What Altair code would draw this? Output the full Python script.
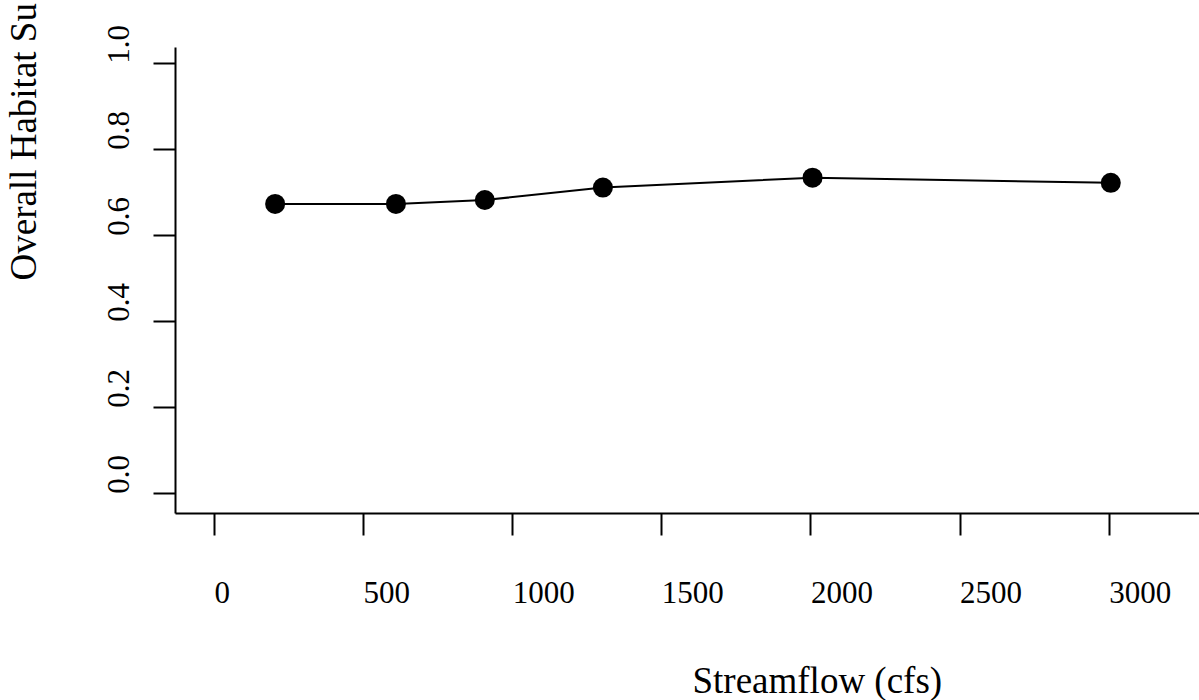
import altair as alt
import pandas as pd

# Data
flow = [205, 610, 908, 1304, 2007, 3007]
suitability = [0.673, 0.673, 0.682, 0.711, 0.734, 0.722]
x_ticks = [0, 500, 1000, 1500, 2000, 2500, 3000]
y_ticks = [0.0, 0.2, 0.4, 0.6, 0.8, 1.0]

df = pd.DataFrame({"flow": flow, "suit": suitability})

FONT = "Liberation Serif"
LABEL_SIZE = 31
TITLE_SIZE = 37

x_enc = alt.X(
    "flow:Q",
    scale=alt.Scale(domain=[-130.8, 3302.8], nice=False, zero=False),
    axis=alt.Axis(
        values=x_ticks, format="d", title="Streamflow (cfs)", grid=False,
        domainColor="black", domainWidth=2, tickColor="black", tickWidth=2, tickSize=22,
        labelFont=FONT, labelFontSize=LABEL_SIZE, labelColor="black",
        labelAlign="left", labelBaseline="alphabetic", labelPadding=67,
        labelFlush=False, labelOverlap=False,
        titleFont=FONT, titleFontSize=TITLE_SIZE, titleFontWeight="normal", titleColor="black",
        titleAlign="left", titleBaseline="alphabetic", titleX=517, titleY=179,
    ),
)

y_enc = alt.Y(
    "suit:Q",
    scale=alt.Scale(domain=[-0.0458, 1.0379], nice=False, zero=False),
    axis=alt.Axis(
        values=y_ticks, format=".1f", title="Overall Habitat Su", grid=False,
        domainColor="black", domainWidth=2, tickColor="black", tickWidth=2, tickSize=22,
        labelFont=FONT, labelFontSize=LABEL_SIZE, labelColor="black",
        labelAngle=270, labelAlign="left", labelBaseline="alphabetic", labelPadding=25,
        labelFlush=False, labelOverlap=False,
        titleFont=FONT, titleFontSize=TITLE_SIZE, titleFontWeight="normal", titleColor="black",
        titleAngle=270, titleAlign="left", titleBaseline="alphabetic", titleX=-140, titleY=233,
    ),
)

base = alt.Chart(df).encode(x=x_enc, y=y_enc)

line = base.mark_line(color="black", strokeWidth=2)
points = base.mark_point(shape="circle", filled=True, color="black", opacity=1, size=400)

chart = (
    (line + points)
    .properties(
        width=1024,
        height=466,
        autosize=alt.AutoSizeParams(type="none"),
        padding={"left": 175, "top": 47, "right": 0, "bottom": 187},
        background="white",
    )
    .configure_view(stroke=None)
)

chart.save("out.html", embed_options={"renderer": "svg", "actions": False})
